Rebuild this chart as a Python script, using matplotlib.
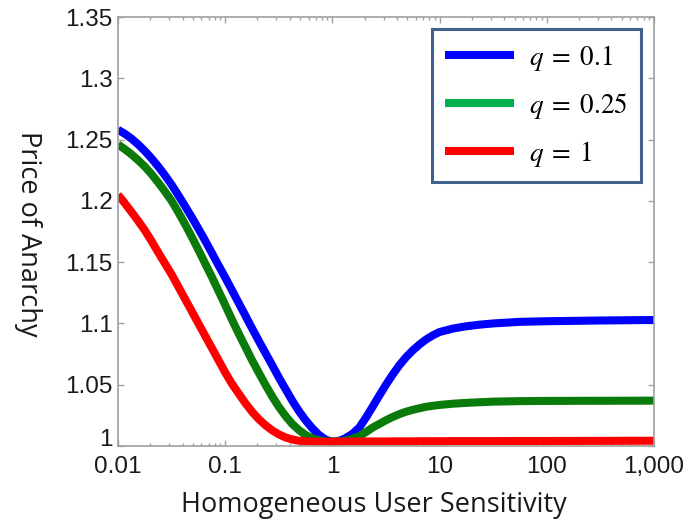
import matplotlib
matplotlib.use("Agg")
import matplotlib.pyplot as plt
from matplotlib.lines import Line2D
from matplotlib.ticker import FixedLocator, FixedFormatter, NullLocator, LogLocator

# ---------------- data ----------------
sensitivity = [0.01, 0.01155, 0.01334, 0.0154, 0.01778, 0.02054, 0.02371, 0.02738,
               0.03162, 0.03652, 0.04217, 0.0487, 0.05623, 0.06494, 0.075, 0.0866,
               0.1, 0.115, 0.133, 0.154, 0.178, 0.205, 0.237, 0.274, 0.316,
               0.365, 0.422, 0.487, 0.562, 0.649, 0.75, 0.866,
               1.0, 1.155, 1.33, 1.54, 1.78, 2.05, 2.37, 2.74, 3.16, 3.65,
               4.22, 4.87, 5.62, 6.49, 7.5, 8.66, 10, 13.3, 17.8, 23.7, 31.6,
               56.2, 100, 316, 1000]

poa_q01 = [1.258, 1.2548, 1.2508, 1.2461, 1.2407, 1.2347, 1.2281, 1.2209,
           1.2131, 1.2046, 1.1958, 1.1867, 1.1773, 1.1676, 1.1576, 1.1474,
           1.1375, 1.1275, 1.117, 1.1065, 1.096, 1.086, 1.076, 1.066, 1.056,
           1.0465, 1.037, 1.0285, 1.021, 1.0145, 1.009, 1.0052,
           1.0035, 1.0042, 1.0065, 1.0100, 1.0150, 1.0230, 1.0320, 1.0412,
           1.0500, 1.0583, 1.0660, 1.0725, 1.0780, 1.0828, 1.0870, 1.0903,
           1.0930, 1.0958, 1.0977, 1.0990, 1.1000, 1.1013, 1.1018, 1.1024, 1.1028]

poa_q025 = [1.246, 1.2422, 1.238, 1.2332, 1.228, 1.2218, 1.215, 1.2077,
            1.200, 1.1908, 1.181, 1.1707, 1.160, 1.149, 1.138, 1.1265,
            1.115, 1.1035, 1.092, 1.081, 1.070, 1.060, 1.050, 1.0405, 1.032,
            1.0245, 1.018, 1.013, 1.009, 1.0062, 1.0047, 1.0039,
            1.0035, 1.0038, 1.0045, 1.0060, 1.0080, 1.0113, 1.0150, 1.0180,
            1.0210, 1.0237, 1.0260, 1.0280, 1.0295, 1.0308, 1.0320, 1.0328,
            1.0335, 1.0345, 1.0352, 1.0357, 1.0362, 1.0366, 1.0368, 1.0369, 1.0370]

poa_q1 = [1.205, 1.1982, 1.191, 1.1837, 1.176, 1.1672, 1.158, 1.149,
          1.140, 1.130, 1.120, 1.110, 1.100, 1.090, 1.080, 1.070,
          1.060, 1.051, 1.043, 1.035, 1.028, 1.022, 1.017, 1.0128, 1.0095,
          1.0070, 1.0053, 1.0043, 1.0038, 1.0036, 1.0035, 1.0035,
          1.0035, 1.0035, 1.0036, 1.0036, 1.0036, 1.0037, 1.0037, 1.0037,
          1.0037, 1.0038, 1.0038, 1.0038, 1.0038, 1.0039, 1.0039, 1.0039,
          1.0039, 1.0040, 1.0040, 1.0040, 1.0040, 1.0041, 1.0041, 1.0042, 1.0043]

series_labels = [r"$q\;=\;0.1$", r"$q\;=\;0.25$", r"$q\;=\;1$"]
line_colors = ["#0000ff", "#0a7a0a", "#ff0000"]
legend_colors = ["#0000ff", "#00b050", "#ff0000"]

xticks = [0.01, 0.1, 1, 10, 100, 1000]
xtick_labels = ["0.01", "0.1", "1", "10", "100", "1,000"]
yticks = [1.0, 1.05, 1.1, 1.15, 1.2, 1.25, 1.3, 1.35]
ytick_labels = ["1", "1.05", "1.1", "1.15", "1.2", "1.25", "1.3", "1.35"]

# ---------------- figure ----------------
plt.rcParams["mathtext.fontset"] = "stix"
W, H = 691, 521
fig = plt.figure(figsize=(W / 100, H / 100), dpi=100)
ax = fig.add_axes([118 / W, 1 - 446 / H, (654 - 118) / W, (446 - 17) / H])

for vals, c in zip([poa_q01, poa_q025, poa_q1], line_colors):
    ax.plot(sensitivity, vals, color=c, lw=5.8, solid_capstyle="butt",
            solid_joinstyle="round")

ax.set_xscale("log")
ax.set_xlim(0.01, 1000)
ax.set_ylim(1.0, 1.35)

ax.xaxis.set_major_locator(FixedLocator(xticks))
ax.xaxis.set_major_formatter(FixedFormatter(xtick_labels))
ax.xaxis.set_minor_locator(LogLocator(base=10, subs=range(2, 10), numticks=20))
ax.yaxis.set_major_locator(FixedLocator(yticks))
ax.yaxis.set_major_formatter(FixedFormatter(ytick_labels))
ax.yaxis.set_minor_locator(NullLocator())

spine_c = "#a0a0a0"
for s in ax.spines.values():
    s.set_color(spine_c)
    s.set_linewidth(1.2)
ax.tick_params(which="both", direction="in", top=True, right=True,
               color=spine_c, width=1.0)
ax.tick_params(which="major", length=4)
ax.tick_params(which="minor", length=2.2)
ax.tick_params(axis="x", which="major", pad=7)
ax.tick_params(axis="y", which="major", pad=4)
for lab in ax.get_xticklabels() + ax.get_yticklabels():
    lab.set_family("Liberation Sans")
    lab.set_fontsize(17.5)
    lab.set_color("#1a1a1a")
# raise the "1" label above the bottom spine
ax.get_yticklabels()[0].set_va("baseline")

# axis titles
fig.text(374 / W, 1 - 511.7 / H, "Homogeneous User Sensitivity",
         family="Open Sans", fontsize=19.5, ha="center", va="baseline", color="#1a1a1a")
fig.text(28 / W, 1 - 234 / H, "Price of Anarchy", family="Open Sans", fontsize=19.5,
         rotation=270, ha="center", va="center", color="#1a1a1a")

# legend
handles = [Line2D([], [], color=c, lw=5.8, solid_capstyle="butt") for c in legend_colors]
leg = ax.legend(handles, series_labels, loc="upper right",
                bbox_to_anchor=(640.7 / W, 1 - 29.3 / H), bbox_transform=fig.transFigure,
                borderaxespad=0, fancybox=False, framealpha=1, fontsize=19.5,
                handlelength=2.53, handletextpad=0.55, labelspacing=0.66,
                borderpad=0.5)
leg.get_frame().set_edgecolor("#41628f")
leg.get_frame().set_linewidth(2.2)

fig.savefig("out.png", dpi=100)
